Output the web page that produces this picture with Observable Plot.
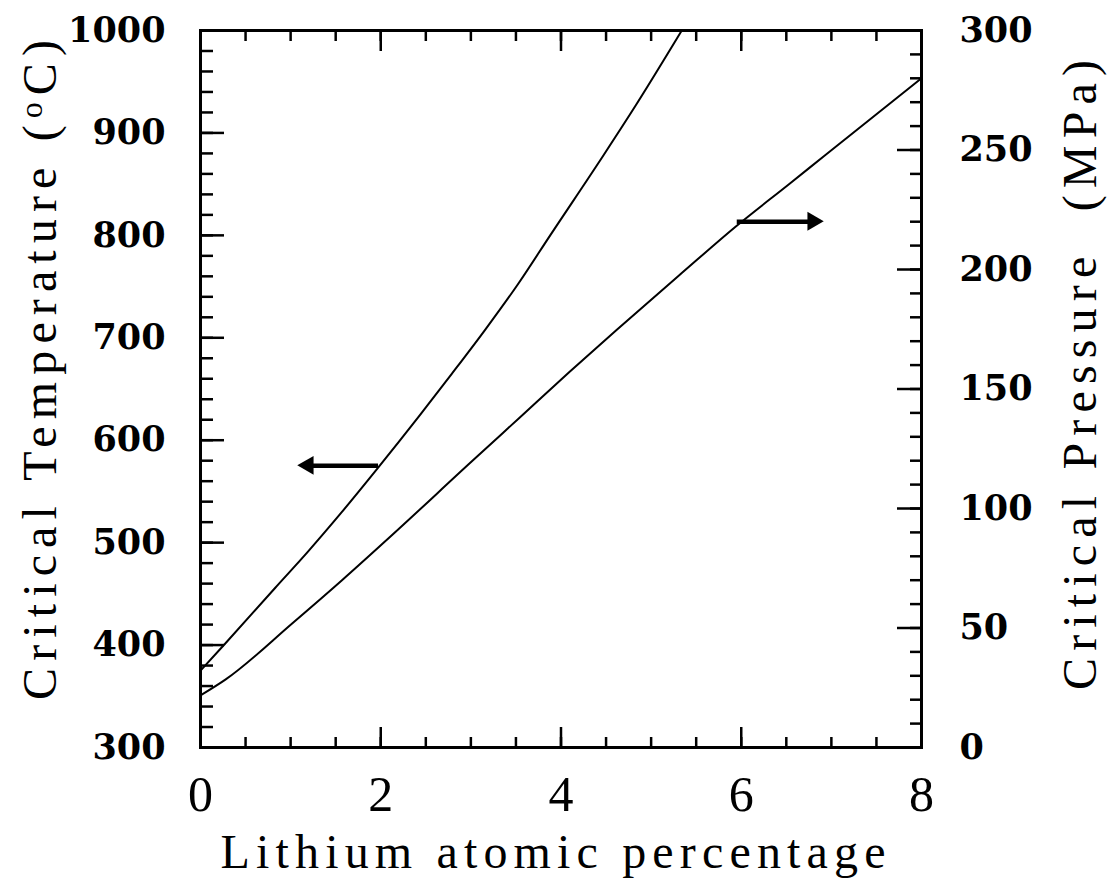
<!DOCTYPE html>
<html><head><meta charset="utf-8">
<script src="https://cdn.jsdelivr.net/npm/d3@7"></script>
<script src="https://cdn.jsdelivr.net/npm/@observablehq/plot@0.6"></script>
<style>body{margin:0;background:#fff;}</style>
</head><body><div id="chart"></div>
<script>
// Data
const tempX = [0, 0.27, 0.83, 1.19, 1.56, 1.96, 2.43, 2.79, 3.16, 3.52, 3.88, 4.47, 4.83, 5.34];
const tempC = [375, 401, 456, 491, 529, 572, 624, 665, 708, 752, 800, 878, 927, 1000];
const presX = [0, 0.28, 1.02, 1.57, 2.12, 2.99, 3.54, 4.09, 4.61, 5.34, 5.94, 6.54, 6.92, 8.0];
const presMPa = [21.8, 28.5, 52, 70, 88.7, 119, 138, 157, 174.5, 198.5, 218, 236, 247.5, 280];

// arrows (x from, x to, value on its own axis)
const tempArrow = {x1: 1.97, x2: 1.2, v: 575};
const presArrow = {x1: 5.95, x2: 6.8, v: 220};

// tick labels
const xTicks = [0, 2, 4, 6, 8];
const xMinor = [0,0.5,1,1.5,2,2.5,3,3.5,4,4.5,5,5.5,6,6.5,7,7.5,8];
const tempTicks = [300, 400, 500, 600, 700, 800, 900, 1000];
const presTicks = [0, 50, 100, 150, 200, 250, 300];

const tempMinor = d3.range(300, 1001, 20);
const presMinor = d3.range(0, 301, 10);

const toT = p => 300 + p * 700 / 300;
const fromT = t => Math.round((t - 300) * 300 / 700);

const tempData = tempX.map((x, i) => ({x, y: tempC[i]}));
const presData = presX.map((x, i) => ({x, y: toT(presMPa[i])}));
const arrows = [
  {x1: tempArrow.x1, x2: tempArrow.x2, y: tempArrow.v, rot: -90, dx: 8},
  {x1: presArrow.x1, x2: presArrow.x2, y: toT(presArrow.v), rot: 90, dx: -8}
];

const tickStyle = {strokeWidth: 2.5, label: null};
const labelFont = {fontFamily: "DejaVu Serif", fontSize: 35, fontWeight: "bold", label: null};
const chart = Plot.plot({
  width: 1107,
  height: 881,
  marginLeft: 200,
  marginRight: 186,
  marginTop: 30,
  marginBottom: 134,
  style: {fontFamily: "DejaVu Serif", fontSize: "36px", background: "white", color: "black"},
  x: {domain: [0, 8], label: null},
  y: {domain: [300, 1000], label: null},
  marks: [
    // bottom
    Plot.axisX(xMinor, {anchor: "bottom", tickSize: -10, tickFormat: () => "", ...tickStyle}),
    Plot.axisX(xTicks, {anchor: "bottom", tickSize: -20, tickFormat: () => "", ...tickStyle}),
    Plot.axisX(xTicks, {anchor: "bottom", tickSize: 0, tickPadding: 28, tickFormat: d3.format("d"), fontFamily: "Liberation Serif", fontSize: 50, label: null}),
    // top
    Plot.axisX(xMinor, {anchor: "top", tickSize: -10, tickFormat: () => "", ...tickStyle}),
    Plot.axisX(xTicks, {anchor: "top", tickSize: -20, tickFormat: () => "", ...tickStyle}),
    // left
    Plot.axisY(tempMinor, {anchor: "left", tickSize: -13, tickFormat: () => "", ...tickStyle}),
    Plot.axisY(tempTicks, {anchor: "left", tickSize: -24, tickFormat: () => "", ...tickStyle}),
    Plot.axisY(tempTicks, {anchor: "left", tickSize: 0, tickPadding: 35, tickFormat: d3.format("d"), ...labelFont}),
    // right
    Plot.axisY(presMinor.map(toT), {anchor: "right", tickSize: -12, tickFormat: () => "", ...tickStyle}),
    Plot.axisY(presTicks.map(toT), {anchor: "right", tickSize: -25, tickFormat: () => "", ...tickStyle}),
    Plot.axisY(presTicks.map(toT), {anchor: "right", tickSize: 0, tickPadding: 38, tickFormat: fromT, ...labelFont}),
    Plot.frame({stroke: "black", strokeWidth: 3}),
    Plot.line(tempData, {x: "x", y: "y", curve: "monotone-x", stroke: "black", strokeWidth: 2}),
    Plot.line(presData, {x: "x", y: "y", curve: "monotone-x", stroke: "black", strokeWidth: 2}),
    Plot.link(arrows, {x1: "x1", x2: "x2", y1: "y", y2: "y", stroke: "black", strokeWidth: 4.5}),
    Plot.dot(arrows, {x: "x2", y: "y", symbol: "triangle", r: 7, fill: "black", stroke: "none", rotate: "rot", dx: "dx"})
  ]
});

const svg = d3.select(chart);
const titleFont = "Liberation Serif";
// x title
svg.append("text")
  .attr("x", 553).attr("y", 868)
  .attr("text-anchor", "middle")
  .attr("font-family", titleFont).attr("font-size", 48)
  .attr("textLength", 665).attr("lengthAdjust", "spacing")
  .attr("fill", "black")
  .text("Lithium atomic percentage");
// left title
const lt = svg.append("text")
  .attr("transform", "translate(56,370) rotate(-90)")
  .attr("text-anchor", "middle")
  .attr("font-family", titleFont).attr("font-size", 48)
  .attr("textLength", 660).attr("lengthAdjust", "spacing")
  .attr("fill", "black");
lt.append("tspan").text("Critical Temperature (");
lt.append("tspan").attr("baseline-shift", "45%").attr("font-size", 32).text("o");
lt.append("tspan").text("C)");
// right title
svg.append("text")
  .attr("transform", "translate(1096,375) rotate(-90)")
  .attr("text-anchor", "middle")
  .attr("font-family", titleFont).attr("font-size", 48)
  .attr("textLength", 630).attr("lengthAdjust", "spacing")
  .attr("fill", "black")
  .style("white-space", "pre")
  .text("Critical Pressure  (MPa)");

document.getElementById("chart").appendChild(chart);
</script>
</body></html>
